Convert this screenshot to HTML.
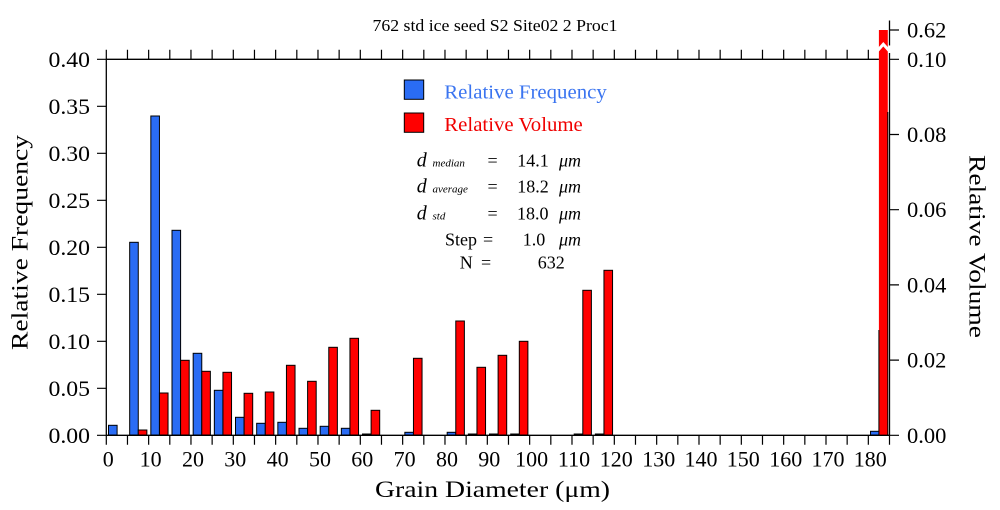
<!DOCTYPE html>
<html>
<head>
<meta charset="utf-8">
<style>
  html, body { margin:0; padding:0; background:#ffffff; }
  svg { display:block; }
  text { font-family: "Liberation Serif", "Times New Roman", serif; fill:#000; }
</style>
</head>
<body>
<svg width="1000" height="510" viewBox="0 0 1000 510" xmlns="http://www.w3.org/2000/svg" font-family="'Liberation Serif', 'Times New Roman', serif">
  <rect x="0" y="0" width="1000" height="510" fill="#ffffff"/>

  <!-- Title -->
  <text x="495" y="31" font-size="16.5" text-anchor="middle" textLength="245" lengthAdjust="spacingAndGlyphs">762 std ice seed S2 Site02 2 Proc1</text>

  <!-- Blue bars (relative frequency) -->
  <g fill="#2a6cf4" stroke="#000" stroke-width="1">
    <rect x="108.5" y="425.3" width="8.6" height="9.7"/>
    <rect x="129.67" y="242.3" width="8.6" height="192.7"/>
    <rect x="150.84" y="116" width="8.6" height="319"/>
    <rect x="172.0" y="230.3" width="8.6" height="204.7"/>
    <rect x="193.17" y="353.3" width="8.6" height="81.7"/>
    <rect x="214.34" y="390.3" width="8.6" height="44.7"/>
    <rect x="235.5" y="417.3" width="8.6" height="17.7"/>
    <rect x="256.67" y="423.3" width="8.6" height="11.7"/>
    <rect x="277.84" y="422.3" width="8.6" height="12.7"/>
    <rect x="299.0" y="428.3" width="8.6" height="6.7"/>
    <rect x="320.17" y="426.3" width="8.6" height="8.7"/>
    <rect x="341.34" y="428.3" width="8.6" height="6.7"/>
    <rect x="362.5" y="434" width="8.6" height="1"/>
    <rect x="404.85" y="432.3" width="8.6" height="2.7"/>
    <rect x="447.18" y="432.3" width="8.6" height="2.7"/>
    <rect x="468.35" y="434" width="8.6" height="1"/>
    <rect x="489.5" y="434" width="8.6" height="1"/>
    <rect x="510.7" y="434" width="8.6" height="1"/>
    <rect x="574.2" y="434" width="8.6" height="1"/>
    <rect x="595.35" y="434" width="8.6" height="1"/>
    <rect x="870.53" y="431.3" width="8.6" height="3.7"/>
  </g>

  <!-- Red bars (relative volume) -->
  <g fill="#ff0000" stroke="#000" stroke-width="1">
    <rect x="138.27" y="430" width="8.6" height="5"/>
    <rect x="159.44" y="393" width="8.6" height="42"/>
    <rect x="180.6" y="360.3" width="8.6" height="74.7"/>
    <rect x="201.77" y="371.3" width="8.6" height="63.7"/>
    <rect x="222.94" y="372.3" width="8.6" height="62.7"/>
    <rect x="244.1" y="393.3" width="8.6" height="41.7"/>
    <rect x="265.27" y="392" width="8.6" height="43"/>
    <rect x="286.44" y="365.3" width="8.6" height="69.7"/>
    <rect x="307.6" y="381.3" width="8.6" height="53.7"/>
    <rect x="328.77" y="347.3" width="8.6" height="87.7"/>
    <rect x="349.94" y="338.3" width="8.6" height="96.7"/>
    <rect x="371.1" y="410.3" width="8.6" height="24.7"/>
    <rect x="413.45" y="358.3" width="8.6" height="76.7"/>
    <rect x="455.78" y="321" width="8.6" height="114"/>
    <rect x="476.95" y="367.3" width="8.6" height="67.7"/>
    <rect x="498.1" y="355.3" width="8.6" height="79.7"/>
    <rect x="519.3" y="341.3" width="8.6" height="93.7"/>
    <rect x="582.8" y="290.3" width="8.6" height="144.7"/>
    <rect x="603.95" y="270.3" width="8.6" height="164.7"/>
  </g>
  <!-- tall broken red bar -->
  <rect x="878.9" y="30" width="8.9" height="405" fill="#ff0000"/>
  <path d="M878.9 330 V435 M887.8 112 V435" stroke="#000" stroke-width="1" fill="none"/>
  <polygon points="878.4,47.5 883.3,42 888.3,47.5 888.3,52 883.3,46.5 878.4,52" fill="#ffffff"/>

  <!-- Axes frame -->
  <g stroke="#000" stroke-width="1.3" fill="none">
    <path d="M106.3 59.3 V435.3"/>
    <path d="M106.3 435.3 H889.5"/>
    <path d="M106.3 59.3 H878.9"/>
    <path d="M889.5 20.5 V45.5 M889.5 53 V435.3"/>
  </g>

  <!-- X ticks bottom and top -->
  <path stroke="#000" stroke-width="1.2" fill="none" d="
    M106.3 435.3 v9.5 M127.47 435.3 v9.5 M148.64 435.3 v9.5 M169.80 435.3 v9.5 M190.97 435.3 v9.5
    M212.14 435.3 v9.5 M233.31 435.3 v9.5 M254.47 435.3 v9.5 M275.64 435.3 v9.5 M296.81 435.3 v9.5
    M317.98 435.3 v9.5 M339.14 435.3 v9.5 M360.31 435.3 v9.5 M381.48 435.3 v9.5 M402.65 435.3 v9.5
    M423.81 435.3 v9.5 M444.98 435.3 v9.5 M466.15 435.3 v9.5 M487.32 435.3 v9.5 M508.48 435.3 v9.5
    M529.65 435.3 v9.5 M550.82 435.3 v9.5 M571.99 435.3 v9.5 M593.15 435.3 v9.5 M614.32 435.3 v9.5
    M635.49 435.3 v9.5 M656.66 435.3 v9.5 M677.82 435.3 v9.5 M698.99 435.3 v9.5 M720.16 435.3 v9.5
    M741.33 435.3 v9.5 M762.49 435.3 v9.5 M783.66 435.3 v9.5 M804.83 435.3 v9.5 M826.0 435.3 v9.5
    M847.16 435.3 v9.5 M868.33 435.3 v9.5 M889.5 435.3 v9.5
    M106.3 59.3 v-9.5 M127.47 59.3 v-9.5 M148.64 59.3 v-9.5 M169.80 59.3 v-9.5 M190.97 59.3 v-9.5
    M212.14 59.3 v-9.5 M233.31 59.3 v-9.5 M254.47 59.3 v-9.5 M275.64 59.3 v-9.5 M296.81 59.3 v-9.5
    M317.98 59.3 v-9.5 M339.14 59.3 v-9.5 M360.31 59.3 v-9.5 M381.48 59.3 v-9.5 M402.65 59.3 v-9.5
    M423.81 59.3 v-9.5 M444.98 59.3 v-9.5 M466.15 59.3 v-9.5 M487.32 59.3 v-9.5 M508.48 59.3 v-9.5
    M529.65 59.3 v-9.5 M550.82 59.3 v-9.5 M571.99 59.3 v-9.5 M593.15 59.3 v-9.5 M614.32 59.3 v-9.5
    M635.49 59.3 v-9.5 M656.66 59.3 v-9.5 M677.82 59.3 v-9.5 M698.99 59.3 v-9.5 M720.16 59.3 v-9.5
    M741.33 59.3 v-9.5 M762.49 59.3 v-9.5 M783.66 59.3 v-9.5 M804.83 59.3 v-9.5 M826.0 59.3 v-9.5
    M847.16 59.3 v-9.5 M868.33 59.3 v-9.5
  "/>

  <!-- Left y ticks -->
  <path stroke="#000" stroke-width="1.2" fill="none" d="
    M97 59.3 H106.3 M97 106.3 H106.3 M97 153.3 H106.3 M97 200.3 H106.3 M97 247.3 H106.3
    M97 294.3 H106.3 M97 341.3 H106.3 M97 388.3 H106.3 M97 435.3 H106.3"/>
  <!-- Right y ticks -->
  <path stroke="#000" stroke-width="1.2" fill="none" d="
    M889.5 30 H899 M889.5 59.3 H899 M889.5 134.5 H899 M889.5 209.7 H899 M889.5 284.9 H899
    M889.5 360.1 H899 M889.5 435.3 H899"/>

  <!-- X tick labels -->
  <g font-size="22" text-anchor="middle">
    <text x="108.3" y="466.5">0</text>
    <text x="150.6" y="466.5">10</text>
    <text x="193.0" y="466.5">20</text>
    <text x="235.3" y="466.5">30</text>
    <text x="277.6" y="466.5">40</text>
    <text x="320.0" y="466.5">50</text>
    <text x="362.3" y="466.5">60</text>
    <text x="404.6" y="466.5">70</text>
    <text x="447.0" y="466.5">80</text>
    <text x="489.3" y="466.5">90</text>
    <text x="531.6" y="466.5">100</text>
    <text x="574.0" y="466.5">110</text>
    <text x="616.3" y="466.5">120</text>
    <text x="658.7" y="466.5">130</text>
    <text x="701.0" y="466.5">140</text>
    <text x="743.3" y="466.5">150</text>
    <text x="785.7" y="466.5">160</text>
    <text x="828.0" y="466.5">170</text>
    <text x="870.3" y="466.5">180</text>
  </g>

  <!-- Left y tick labels -->
  <g font-size="22.5">
    <text x="48.5" y="66.8" textLength="41.5" lengthAdjust="spacingAndGlyphs">0.40</text>
    <text x="48.5" y="113.8" textLength="41.5" lengthAdjust="spacingAndGlyphs">0.35</text>
    <text x="48.5" y="160.8" textLength="41.5" lengthAdjust="spacingAndGlyphs">0.30</text>
    <text x="48.5" y="207.8" textLength="41.5" lengthAdjust="spacingAndGlyphs">0.25</text>
    <text x="48.5" y="254.8" textLength="41.5" lengthAdjust="spacingAndGlyphs">0.20</text>
    <text x="48.5" y="301.8" textLength="41.5" lengthAdjust="spacingAndGlyphs">0.15</text>
    <text x="48.5" y="348.8" textLength="41.5" lengthAdjust="spacingAndGlyphs">0.10</text>
    <text x="48.5" y="395.8" textLength="41.5" lengthAdjust="spacingAndGlyphs">0.05</text>
    <text x="48.5" y="442.8" textLength="41.5" lengthAdjust="spacingAndGlyphs">0.00</text>
  </g>

  <!-- Right y tick labels -->
  <g font-size="22.5" text-anchor="start">
    <text x="907" y="37.3">0.62</text>
    <text x="907" y="66.8">0.10</text>
    <text x="907" y="142">0.08</text>
    <text x="907" y="217.2">0.06</text>
    <text x="907" y="292.4">0.04</text>
    <text x="907" y="367.6">0.02</text>
    <text x="907" y="442.8">0.00</text>
  </g>

  <!-- Axis titles -->
  <text x="492.5" y="497" font-size="23" text-anchor="middle" textLength="235" lengthAdjust="spacingAndGlyphs">Grain Diameter (μm)</text>
  <text transform="translate(27.5,242.5) rotate(-90)" font-size="23" text-anchor="middle" textLength="215" lengthAdjust="spacingAndGlyphs">Relative Frequency</text>
  <text transform="translate(969.5,246.5) rotate(90)" font-size="23" text-anchor="middle" textLength="183" lengthAdjust="spacingAndGlyphs">Relative Volume</text>

  <!-- Legend -->
  <rect x="404.3" y="80" width="19.4" height="19.3" fill="#2a6cf4" stroke="#000" stroke-width="1"/>
  <rect x="404.3" y="113" width="19.4" height="19.3" fill="#ff0000" stroke="#000" stroke-width="1"/>
  <text x="444.3" y="98.3" font-size="20.5" style="fill:#3a74f0" textLength="162.5" lengthAdjust="spacingAndGlyphs">Relative Frequency</text>
  <text x="444.3" y="131" font-size="20.5" style="fill:#f00000" textLength="138.5" lengthAdjust="spacingAndGlyphs">Relative Volume</text>

  <!-- Stats -->
  <g font-size="18">
    <text x="416.7" y="166.7" font-size="20" font-style="italic">d</text>
    <text x="432.5" y="166.7" font-size="11" font-style="italic">median</text>
    <text x="487.5" y="166.7">=</text>
    <text x="517.3" y="166.7">14.1</text>
    <text x="559" y="166.7" font-style="italic">μm</text>

    <text x="416.7" y="192.7" font-size="20" font-style="italic">d</text>
    <text x="432.5" y="192.7" font-size="11" font-style="italic">average</text>
    <text x="487.5" y="192.7">=</text>
    <text x="517.3" y="192.7">18.2</text>
    <text x="559" y="192.7" font-style="italic">μm</text>

    <text x="416.7" y="219.3" font-size="20" font-style="italic">d</text>
    <text x="432.5" y="219.3" font-size="11" font-style="italic">std</text>
    <text x="487.5" y="219.3">=</text>
    <text x="517" y="219.3">18.0</text>
    <text x="559" y="219.3" font-style="italic">μm</text>

    <text x="477" y="245.3" text-anchor="end">Step</text>
    <text x="483" y="245.3">=</text>
    <text x="522.7" y="245.3">1.0</text>
    <text x="559" y="245.3" font-style="italic">μm</text>

    <text x="472.7" y="268.7" text-anchor="end">N</text>
    <text x="481" y="268.7">=</text>
    <text x="537.7" y="268.7">632</text>
  </g>
</svg>
</body>
</html>
